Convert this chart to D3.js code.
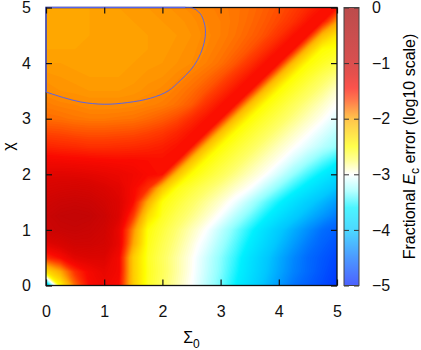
<!DOCTYPE html>
<html>
<head>
<meta charset="utf-8">
<script src="https://cdn.jsdelivr.net/npm/d3@7"></script>
<style>
  body { margin: 0; background: #fff; }
  text { font-family: "Liberation Sans", Arial, sans-serif; }
</style>
</head>
<body>
<div id="chart"></div>
<script>
// log10 fractional error on a 0.25 grid; first row is chi=0, first column Sigma0=0
const gridStep = 0.25;
const errRows = [
  [-4.0, -2.45, -1.8, -1.45, -1.35, -1.45, -2.2, -2.58, -2.72, -2.86, -3.0, -3.19, -3.38, -3.59, -3.82, -4.04, -4.25, -4.46, -4.6, -4.72, -4.85],
  [-2.3, -2.0, -1.6, -1.4, -1.3, -1.4, -2.2, -2.57, -2.7, -2.84, -2.98, -3.16, -3.34, -3.54, -3.76, -3.98, -4.18, -4.38, -4.53, -4.67, -4.8],
  [-1.6, -1.45, -1.25, -1.2, -1.2, -1.4, -2.2, -2.58, -2.71, -2.84, -2.97, -3.14, -3.32, -3.5, -3.73, -3.95, -4.15, -4.35, -4.52, -4.64, -4.75],
  [-1.25, -1.15, -1.05, -1.05, -1.1, -1.3, -1.99, -2.55, -2.68, -2.8, -2.93, -3.07, -3.25, -3.43, -3.63, -3.84, -4.05, -4.24, -4.43, -4.57, -4.68],
  [-1.0, -0.97, -0.95, -0.98, -1.05, -1.3, -1.9, -2.52, -2.64, -2.76, -2.88, -3.0, -3.18, -3.36, -3.54, -3.75, -3.96, -4.14, -4.32, -4.5, -4.6],
  [-0.98, -0.92, -0.9, -0.92, -1.0, -1.2, -1.64, -2.3, -2.58, -2.69, -2.79, -2.9, -3.02, -3.2, -3.37, -3.56, -3.75, -3.94, -4.11, -4.27, -4.43],
  [-1.05, -1.0, -0.98, -1.0, -1.08, -1.2, -1.45, -2.02, -2.52, -2.62, -2.72, -2.82, -2.92, -3.04, -3.21, -3.39, -3.57, -3.75, -3.93, -4.09, -4.25],
  [-1.15, -1.12, -1.1, -1.12, -1.18, -1.25, -1.42, -1.6, -2.17, -2.54, -2.63, -2.72, -2.81, -2.91, -3.0, -3.17, -3.34, -3.52, -3.69, -3.86, -4.03],
  [-1.25, -1.24, -1.25, -1.27, -1.3, -1.33, -1.38, -1.44, -1.47, -2.12, -2.5, -2.6, -2.69, -2.79, -2.89, -2.98, -3.13, -3.3, -3.47, -3.63, -3.8],
  [-1.4, -1.41, -1.42, -1.43, -1.44, -1.45, -1.45, -1.46, -1.47, -1.47, -2.12, -2.5, -2.6, -2.69, -2.79, -2.89, -2.98, -3.12, -3.26, -3.41, -3.55],
  [-1.55, -1.57, -1.58, -1.6, -1.6, -1.59, -1.58, -1.56, -1.53, -1.48, -1.48, -2.12, -2.5, -2.6, -2.69, -2.79, -2.89, -2.98, -3.09, -3.2, -3.3],
  [-1.68, -1.69, -1.71, -1.72, -1.72, -1.71, -1.7, -1.67, -1.63, -1.56, -1.48, -1.48, -2.12, -2.5, -2.6, -2.69, -2.79, -2.89, -2.98, -3.09, -3.2],
  [-1.8, -1.81, -1.83, -1.84, -1.84, -1.83, -1.82, -1.79, -1.75, -1.69, -1.58, -1.48, -1.48, -2.12, -2.5, -2.6, -2.69, -2.79, -2.89, -2.98, -3.1],
  [-1.85, -1.87, -1.88, -1.9, -1.9, -1.9, -1.89, -1.87, -1.85, -1.81, -1.74, -1.6, -1.48, -1.48, -2.12, -2.5, -2.6, -2.7, -2.8, -2.9, -3.0],
  [-1.9, -1.92, -1.93, -1.94, -1.94, -1.94, -1.93, -1.91, -1.89, -1.85, -1.8, -1.72, -1.6, -1.48, -1.48, -2.12, -2.5, -2.6, -2.7, -2.8, -2.92],
  [-1.93, -1.94, -1.95, -1.96, -1.96, -1.96, -1.95, -1.93, -1.92, -1.89, -1.85, -1.8, -1.72, -1.6, -1.48, -1.48, -2.12, -2.5, -2.6, -2.7, -2.8],
  [-1.96, -1.96, -1.97, -1.97, -1.97, -1.97, -1.96, -1.95, -1.94, -1.92, -1.9, -1.86, -1.81, -1.73, -1.61, -1.48, -1.48, -2.12, -2.5, -2.58, -2.66],
  [-1.98, -1.98, -1.98, -1.98, -1.98, -1.98, -1.97, -1.96, -1.95, -1.93, -1.91, -1.88, -1.84, -1.79, -1.72, -1.61, -1.48, -1.48, -2.12, -2.5, -2.55],
  [-1.99, -1.99, -1.99, -1.98, -1.98, -1.98, -1.97, -1.96, -1.95, -1.94, -1.92, -1.89, -1.86, -1.82, -1.77, -1.71, -1.61, -1.48, -1.48, -2.1, -2.35],
  [-2.0, -2.0, -1.99, -1.98, -1.98, -1.97, -1.96, -1.95, -1.94, -1.93, -1.91, -1.88, -1.86, -1.83, -1.79, -1.74, -1.68, -1.6, -1.48, -1.48, -1.95],
  [-2.0, -2.0, -1.99, -1.98, -1.97, -1.96, -1.95, -1.94, -1.93, -1.91, -1.89, -1.87, -1.85, -1.83, -1.8, -1.76, -1.71, -1.65, -1.57, -1.48, -1.48]
];

// the blue boundary line (Sigma0, chi)
const boundaryCurve = [
  [0, 3.48], [0.3, 3.38], [0.6, 3.3], [1.0, 3.26], [1.4, 3.29], [1.8, 3.37],
  [2.1, 3.5], [2.31, 3.69], [2.48, 3.87], [2.6, 4.05], [2.7, 4.3], [2.74, 4.53],
  [2.72, 4.72], [2.65, 4.89], [2.52, 4.99], [2.4, 5.0]
];
const boundaryEdge = [[2.4, 5.0], [0, 5.0], [0, 3.48]];

const xTicks = [0, 1, 2, 3, 4, 5];
const yTicks = [0, 1, 2, 3, 4, 5];
const cbTicks = [0, -1, -2, -3, -4, -5];

const colorStops = [-5, -4.5, -4, -3.6, -3.3, -3, -2.75, -2.5, -2.3, -2, -1.9, -1.65, -1.45, -1.2, -0.9, 0];
const colorList = ["#001eff", "#006eff", "#00c8ff", "#00f0ff", "#96ffff", "#ffffff", "#ffff6e", "#ffff00",
                   "#ffdc00", "#ffaa00", "#ff8c00", "#ff3c00", "#fa0a00", "#dc0500", "#c30505", "#a00000"];

const width = 421, height = 350;
const plot = {left: 46, right: 337, top: 7.5, bottom: 285.5};
const cbar = {left: 344, right: 359};

const svg = d3.select("#chart").append("svg")
    .attr("width", width)
    .attr("height", height);

const x = d3.scaleLinear().domain([0, 5]).range([plot.left, plot.right]);
const y = d3.scaleLinear().domain([0, 5]).range([plot.bottom, plot.top]);
const color = d3.scaleLinear().domain(colorStops).range(colorList).clamp(true);

svg.append("clipPath").attr("id", "plot-clip")
  .append("rect")
    .attr("x", plot.left).attr("y", plot.top)
    .attr("width", plot.right - plot.left)
    .attr("height", plot.bottom - plot.top);

//heat map as filled contour bands
const nx = errRows[0].length, ny = errRows.length;
const levels = d3.range(-5, 0, 0.02);
const bands = d3.contours().size([nx, ny]).thresholds(levels)(errRows.flat());
const toPlot = d3.geoTransform({
  point: function(gx, gy) {
    this.stream.point(x((gx - 0.5) * gridStep), y((gy - 0.5) * gridStep));
  }
});
const bandPath = d3.geoPath(toPlot);

svg.append("g")
    .attr("clip-path", "url(#plot-clip)")
  .selectAll("path")
  .data(bands)
  .join("path")
    .attr("d", bandPath)
    .attr("fill", d => color(d.value + 0.01));

//frame
svg.append("rect")
    .attr("x", plot.left).attr("y", plot.top)
    .attr("width", plot.right - plot.left)
    .attr("height", plot.bottom - plot.top)
    .attr("fill", "none")
    .attr("stroke", "#111")
    .attr("stroke-width", 1.3);

//boundary line
const curveLine = d3.line().x(d => x(d[0])).y(d => y(d[1])).curve(d3.curveCatmullRom);
const edgeLine = d3.line().x(d => x(d[0])).y(d => y(d[1]));
svg.append("path").attr("d", curveLine(boundaryCurve))
    .attr("fill", "none").attr("stroke", "#5a64e6").attr("stroke-width", 1);
svg.append("path").attr("d", edgeLine(boundaryEdge))
    .attr("fill", "none").attr("stroke", "#5a64e6").attr("stroke-width", 1.3);

//axes
function styleAxis(g) {
  g.select(".domain").remove();
  g.attr("font-size", 16).attr("font-family", "Liberation Sans, Arial, sans-serif");
  g.selectAll(".tick line").attr("stroke", "#111").attr("stroke-width", 1.2);
  g.selectAll(".tick text").attr("fill", "#111");
}

svg.append("g").attr("transform", `translate(0,${plot.bottom})`)
    .call(d3.axisBottom(x).tickValues(xTicks).tickSize(-6).tickPadding(20).tickFormat(d3.format("d")))
    .call(styleAxis);
svg.append("g").attr("transform", `translate(0,${plot.top})`)
    .call(d3.axisTop(x).tickValues(xTicks).tickSize(-6).tickFormat(""))
    .call(styleAxis);
svg.append("g").attr("transform", `translate(${plot.left},0)`)
    .call(d3.axisLeft(y).tickValues(yTicks).tickSize(-6).tickPadding(15).tickFormat(d3.format("d")))
    .call(styleAxis);
svg.append("g").attr("transform", `translate(${plot.right},0)`)
    .call(d3.axisRight(y).tickValues(yTicks).tickSize(-6).tickFormat(""))
    .call(styleAxis);

//axis titles
svg.append("text")
    .attr("x", (plot.left + plot.right) / 2)
    .attr("y", 343)
    .attr("text-anchor", "middle")
    .attr("font-size", 16)
    .call(t => {
      t.append("tspan").text("Σ");
      t.append("tspan").attr("dy", 5).attr("font-size", 12).text("0");
    });

svg.append("text")
    .attr("transform", `translate(14,${(plot.top + plot.bottom) / 2}) rotate(-90)`)
    .attr("text-anchor", "middle")
    .attr("font-size", 16)
    .text("χ");

//colour bar
const cb = d3.scaleLinear().domain([-5, 0]).range([plot.bottom, plot.top]);
const grad = svg.append("defs").append("linearGradient")
    .attr("id", "cb-grad")
    .attr("x1", 0).attr("y1", 1).attr("x2", 0).attr("y2", 0);
grad.selectAll("stop")
  .data(colorStops)
  .join("stop")
    .attr("offset", d => (d + 5) / 5)
    .attr("stop-color", d => color(d));

svg.append("rect")
    .attr("x", cbar.left).attr("y", plot.top)
    .attr("width", cbar.right - cbar.left)
    .attr("height", plot.bottom - plot.top)
    .attr("fill", "url(#cb-grad)")
    .attr("fill-opacity", 0.7);

const cbFormat = d => d === 0 ? "0" : "\u2212" + Math.abs(d);
svg.append("g").attr("transform", `translate(${cbar.right},0)`)
    .call(d3.axisRight(cb).tickValues(cbTicks).tickSize(-5).tickPadding(13).tickFormat(cbFormat))
    .call(styleAxis)
    .call(g => g.selectAll(".tick line").attr("stroke", "#333").attr("stroke-width", 1));
svg.append("g").attr("transform", `translate(${cbar.left},0)`)
    .call(d3.axisLeft(cb).tickValues(cbTicks).tickSize(-5).tickFormat(""))
    .call(styleAxis)
    .call(g => g.selectAll(".tick line").attr("stroke", "#333").attr("stroke-width", 1));

svg.append("rect")
    .attr("x", cbar.left).attr("y", plot.top)
    .attr("width", cbar.right - cbar.left)
    .attr("height", plot.bottom - plot.top)
    .attr("fill", "none")
    .attr("stroke", "#444")
    .attr("stroke-width", 1);

svg.append("text")
    .attr("transform", `translate(414.5,${(plot.top + plot.bottom) / 2}) rotate(-90)`)
    .attr("text-anchor", "middle")
    .attr("font-size", 16)
    .call(t => {
      t.append("tspan").text("Fractional ");
      t.append("tspan").attr("font-style", "italic").text("E");
      t.append("tspan").attr("dy", 4).attr("font-size", 12).text("c");
      t.append("tspan").attr("dy", -4).text(" error (log10 scale)");
    });
</script>
</body>
</html>
